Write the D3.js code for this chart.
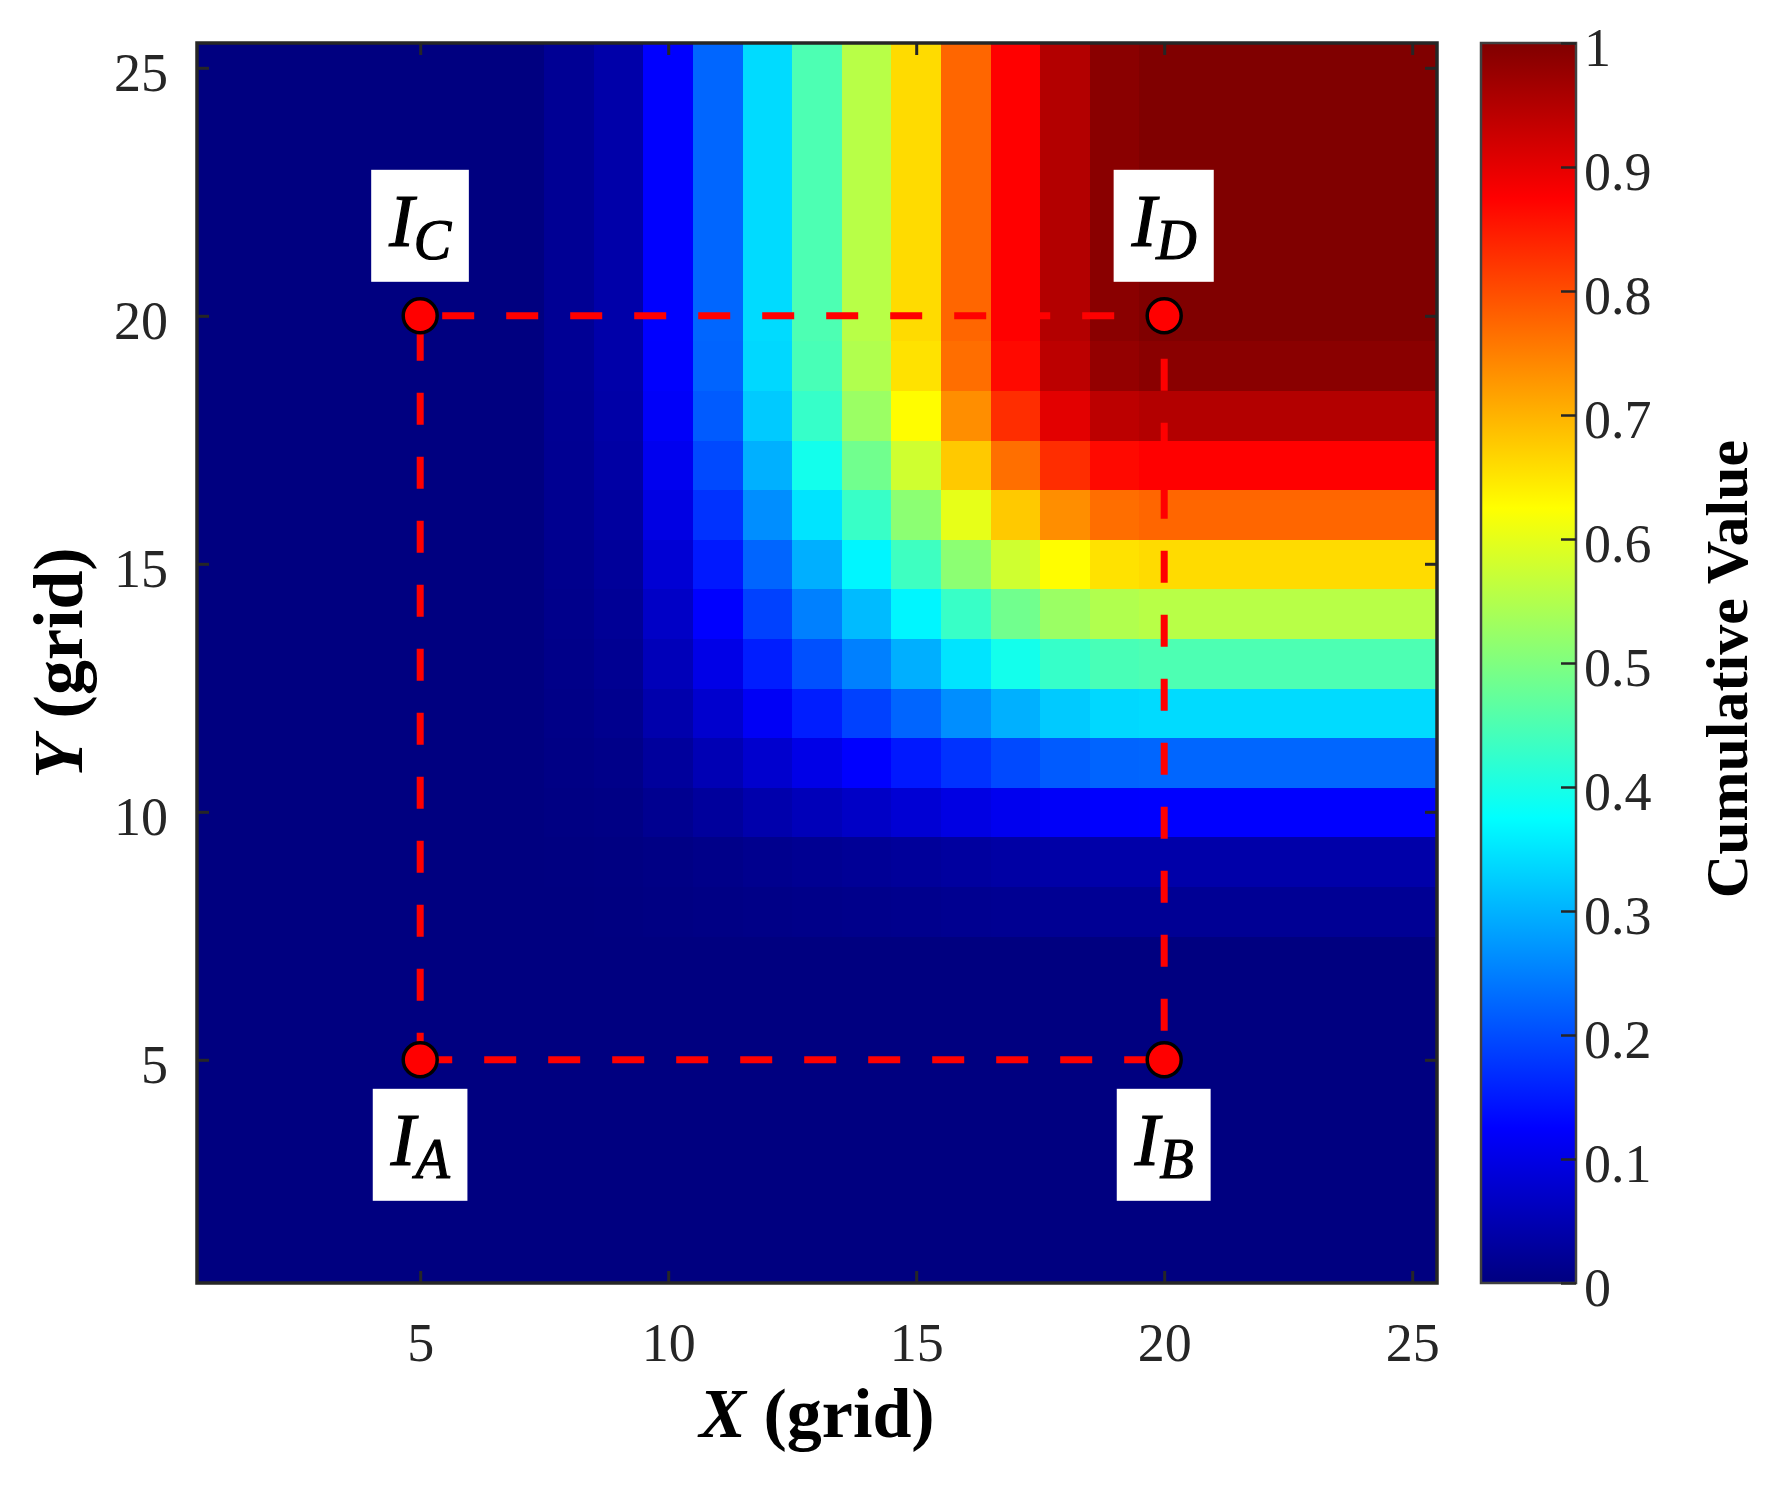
<!DOCTYPE html>
<html>
<head>
<meta charset="utf-8">
<script src="https://cdn.jsdelivr.net/npm/d3@7/dist/d3.min.js"></script>
<style>
  body { margin: 0; background: #fff; }
  svg { display: block; }
  text { font-family: "Liberation Serif", "Times New Roman", serif; }
</style>
</head>
<body>
<svg id="chart" width="1775" height="1488"></svg>
<script>
// grid cells (1..25 on each axis)
const gridX = [1, 2, 3, 4, 5, 6, 7, 8, 9, 10, 11, 12, 13, 14, 15, 16, 17, 18, 19, 20, 21, 22, 23, 24, 25];
const gridY = [1, 2, 3, 4, 5, 6, 7, 8, 9, 10, 11, 12, 13, 14, 15, 16, 17, 18, 19, 20, 21, 22, 23, 24, 25];

// cumulative value, one row per Y (Y = 1 first)
const values = [
  [0,0,0,0,0,0,0, 0,0,0,0,0,0,0,0,0,0,0,0, 0,0,0,0,0,0],
  [0,0,0,0,0,0,0, 0,0,0,0,0,0,0,0,0,0,0,0, 0,0,0,0,0,0],
  [0,0,0,0,0,0,0, 0,0,0,0,0,0,0,0,0,0,0,0, 0,0,0,0,0,0],
  [0,0,0,0,0,0,0, 0,0,0,0,0,0,0,0,0,0,0,0, 0,0,0,0,0,0],
  [0,0,0,0,0,0,0, 0,0,0,0,0,0,0,0,0,0,0,0, 0,0,0,0,0,0],
  [0,0,0,0,0,0,0, 0,0,0,0,0,0,0,0,0,0,0,0, 0,0,0,0,0,0],
  [0,0,0,0,0,0,0, 0,0,0,0,0,0,0,0,0,0,0,0, 0,0,0,0,0,0],
  [0,0,0,0,0,0,0, 0.000,0.001,0.003,0.005,0.007,0.009,0.011,0.013,0.016,0.018,0.019,0.020, 0.020,0.020,0.020,0.020,0.020,0.020],
  [0,0,0,0,0,0,0, 0.001,0.002,0.005,0.009,0.014,0.018,0.022,0.026,0.031,0.035,0.038,0.040, 0.040,0.040,0.040,0.040,0.040,0.040],
  [0,0,0,0,0,0,0, 0.003,0.005,0.016,0.028,0.043,0.056,0.069,0.083,0.097,0.109,0.119,0.124, 0.125,0.125,0.125,0.125,0.125,0.125],
  [0,0,0,0,0,0,0, 0.005,0.009,0.028,0.051,0.077,0.101,0.125,0.149,0.174,0.197,0.214,0.223, 0.225,0.225,0.225,0.225,0.225,0.225],
  [0,0,0,0,0,0,0, 0.007,0.014,0.043,0.077,0.116,0.153,0.189,0.224,0.264,0.298,0.323,0.337, 0.340,0.340,0.340,0.340,0.340,0.340],
  [0,0,0,0,0,0,0, 0.009,0.018,0.056,0.101,0.153,0.203,0.250,0.297,0.349,0.394,0.428,0.446, 0.450,0.450,0.450,0.450,0.450,0.450],
  [0,0,0,0,0,0,0, 0.011,0.022,0.069,0.125,0.189,0.250,0.308,0.366,0.430,0.486,0.527,0.549, 0.555,0.555,0.555,0.555,0.555,0.555],
  [0,0,0,0,0,0,0, 0.013,0.026,0.083,0.149,0.224,0.297,0.366,0.436,0.512,0.578,0.627,0.653, 0.660,0.660,0.660,0.660,0.660,0.660],
  [0,0,0,0,0,0,0, 0.016,0.031,0.097,0.174,0.264,0.349,0.430,0.512,0.601,0.678,0.736,0.767, 0.775,0.775,0.775,0.775,0.775,0.775],
  [0,0,0,0,0,0,0, 0.018,0.035,0.109,0.197,0.298,0.394,0.486,0.578,0.678,0.766,0.831,0.866, 0.875,0.875,0.875,0.875,0.875,0.875],
  [0,0,0,0,0,0,0, 0.019,0.038,0.119,0.214,0.323,0.428,0.527,0.627,0.736,0.831,0.903,0.941, 0.950,0.950,0.950,0.950,0.950,0.950],
  [0,0,0,0,0,0,0, 0.020,0.040,0.124,0.223,0.337,0.446,0.549,0.653,0.767,0.866,0.941,0.980, 0.990,0.990,0.990,0.990,0.990,0.990],
  [0,0,0,0,0,0,0, 0.020,0.040,0.125,0.225,0.340,0.450,0.555,0.660,0.775,0.875,0.950,0.990, 1,1,1,1,1,1],
  [0,0,0,0,0,0,0, 0.020,0.040,0.125,0.225,0.340,0.450,0.555,0.660,0.775,0.875,0.950,0.990, 1,1,1,1,1,1],
  [0,0,0,0,0,0,0, 0.020,0.040,0.125,0.225,0.340,0.450,0.555,0.660,0.775,0.875,0.950,0.990, 1,1,1,1,1,1],
  [0,0,0,0,0,0,0, 0.020,0.040,0.125,0.225,0.340,0.450,0.555,0.660,0.775,0.875,0.950,0.990, 1,1,1,1,1,1],
  [0,0,0,0,0,0,0, 0.020,0.040,0.125,0.225,0.340,0.450,0.555,0.660,0.775,0.875,0.950,0.990, 1,1,1,1,1,1],
  [0,0,0,0,0,0,0, 0.020,0.040,0.125,0.225,0.340,0.450,0.555,0.660,0.775,0.875,0.950,0.990, 1,1,1,1,1,1]
];

const xTicks = [5, 10, 15, 20, 25];
const yTicks = [5, 10, 15, 20, 25];
const cbTicks = [0, 0.1, 0.2, 0.3, 0.4, 0.5, 0.6, 0.7, 0.8, 0.9, 1];

// the four marked points and the dashed box between them
const corners = [
  { id: "A", x: 5,  y: 5,  side: "below" },
  { id: "B", x: 20, y: 5,  side: "below" },
  { id: "C", x: 5,  y: 20, side: "above" },
  { id: "D", x: 20, y: 20, side: "above" }
];
const edges = [["A", "B"], ["C", "D"], ["C", "A"], ["D", "B"]];

// jet colour map stops
const jetStops = [0, 0.125, 0.375, 0.625, 0.875, 1];
const jetColors = ["#000080", "#0000ff", "#00ffff", "#ffff00", "#ff0000", "#800000"];

const svg = d3.select("#chart");
const plotLeft = 197, plotRight = 1437, plotTop = 43, plotBottom = 1283;
const cbLeft = 1481, cbRight = 1576;
const axisColor = "#262626";

const x = d3.scaleLinear().domain([0.5, 25.5]).range([plotLeft, plotRight]);
const y = d3.scaleLinear().domain([0.5, 25.5]).range([plotBottom, plotTop]);
const color = d3.scaleLinear().domain(jetStops).range(jetColors).interpolate(d3.interpolateRgb).clamp(true);
const cb = d3.scaleLinear().domain([0, 1]).range([plotBottom, plotTop]);

// heatmap cells
const cells = [];
gridY.forEach((gy, j) => {
  gridX.forEach((gx, i) => {
    cells.push({ x: gx, y: gy, v: values[j][i] });
  });
});

svg.append("g")
  .attr("shape-rendering", "crispEdges")
  .selectAll("rect")
  .data(cells)
  .enter().append("rect")
  .attr("x", d => x(d.x - 0.5))
  .attr("y", d => y(d.y + 0.5))
  .attr("width", d => x(d.x + 0.5) - x(d.x - 0.5) + 0.8)
  .attr("height", d => y(d.y - 0.5) - y(d.y + 0.5) + 0.8)
  .attr("fill", d => color(d.v));

// axes with inside ticks
const tickLen = 12;
const fontTick = 54;

const xAxis = svg.append("g")
  .attr("transform", `translate(0,${plotBottom})`)
  .call(d3.axisBottom(x).tickValues(xTicks).tickSize(-tickLen).tickPadding(40));
const xAxisTop = svg.append("g")
  .attr("transform", `translate(0,${plotTop})`)
  .call(d3.axisTop(x).tickValues(xTicks).tickSize(-tickLen).tickFormat(""));
const yAxis = svg.append("g")
  .attr("transform", `translate(${plotLeft},0)`)
  .call(d3.axisLeft(y).tickValues(yTicks).tickSize(-tickLen).tickPadding(29));
const yAxisRight = svg.append("g")
  .attr("transform", `translate(${plotRight},0)`)
  .call(d3.axisRight(y).tickValues(yTicks).tickSize(-tickLen).tickFormat(""));

[xAxis, xAxisTop, yAxis, yAxisRight].forEach(g => {
  g.select(".domain").remove();
  g.selectAll(".tick line").attr("stroke", axisColor).attr("stroke-width", 3);
  g.selectAll(".tick text")
    .attr("fill", axisColor)
    .style("font-size", fontTick + "px")
    .style("font-family", "'Liberation Serif', serif");
});
yAxis.selectAll(".tick text").attr("dy", "0.42em");

svg.append("rect")
  .attr("x", plotLeft).attr("y", plotTop)
  .attr("width", plotRight - plotLeft).attr("height", plotBottom - plotTop)
  .attr("fill", "none")
  .attr("stroke", axisColor)
  .attr("stroke-width", 3.5);

// dashed box between the points
const byId = {};
corners.forEach(c => { byId[c.id] = c; });
const dashPhase = { "A-B": 0, "C-D": -22, "C-A": -13, "D-B": -43 };

svg.append("g")
  .selectAll("line")
  .data(edges)
  .enter().append("line")
  .attr("x1", d => x(byId[d[0]].x))
  .attr("y1", d => y(byId[d[0]].y))
  .attr("x2", d => x(byId[d[1]].x))
  .attr("y2", d => y(byId[d[1]].y))
  .attr("stroke", "#ff0000")
  .attr("stroke-width", 7)
  .attr("stroke-dasharray", "32,32")
  .attr("stroke-dashoffset", d => dashPhase[d[0] + "-" + d[1]]);

svg.append("g")
  .selectAll("circle")
  .data(corners)
  .enter().append("circle")
  .attr("cx", d => x(d.x))
  .attr("cy", d => y(d.y))
  .attr("r", 17)
  .attr("fill", "#ff0000")
  .attr("stroke", "#000")
  .attr("stroke-width", 3.5);

// point labels in white boxes
const boxH = 112;
const label = svg.append("g")
  .selectAll("g")
  .data(corners)
  .enter().append("g");

label.each(function(d) {
  const g = d3.select(this);
  const px = x(d.x), py = y(d.y);
  const boxTop = d.side === "below" ? py + 29 : py - 34 - boxH;
  const rect = g.append("rect").attr("fill", "#fff");
  const t = g.append("text")
    .attr("x", px)
    .attr("y", boxTop + 76)
    .attr("text-anchor", "middle")
    .style("font-style", "italic")
    .attr("fill", "#000")
    .attr("stroke", "#000")
    .attr("stroke-width", 1.2);
  t.append("tspan").style("font-size", "74px").text("I");
  t.append("tspan").style("font-size", "56px").attr("dy", 13).text(d.id);
  const bb = t.node().getBBox();
  const w = bb.width + 34;
  rect.attr("x", bb.x + bb.width / 2 - w / 2)
    .attr("y", boxTop)
    .attr("width", w)
    .attr("height", boxH);
});

// colour bar
const grad = svg.append("defs").append("linearGradient")
  .attr("id", "jet")
  .attr("x1", 0).attr("y1", 1).attr("x2", 0).attr("y2", 0);
grad.selectAll("stop")
  .data(jetStops)
  .enter().append("stop")
  .attr("offset", d => d)
  .attr("stop-color", d => color(d));

svg.append("rect")
  .attr("x", cbLeft).attr("y", plotTop)
  .attr("width", cbRight - cbLeft).attr("height", plotBottom - plotTop)
  .attr("fill", "url(#jet)")
  .attr("stroke", "#404040")
  .attr("stroke-width", 2.5);

const cbAxis = svg.append("g")
  .attr("transform", `translate(${cbRight},0)`)
  .call(d3.axisRight(cb).tickValues(cbTicks).tickSize(-15).tickPadding(8).tickFormat(d3.format("")));
cbAxis.select(".domain").remove();
cbAxis.selectAll(".tick line").attr("stroke", axisColor).attr("stroke-width", 2.5);
cbAxis.selectAll(".tick text")
  .attr("fill", axisColor)
  .attr("dy", "0.42em")
  .style("font-size", fontTick + "px")
  .style("font-family", "'Liberation Serif', serif");

// axis titles
const xTitle = svg.append("text")
  .attr("x", (plotLeft + plotRight) / 2)
  .attr("y", 1437)
  .attr("text-anchor", "middle")
  .style("font-size", "70px")
  .style("font-weight", "bold");
xTitle.append("tspan").style("font-style", "italic").text("X");
xTitle.append("tspan").text(" (grid)");

const yTitle = svg.append("text")
  .attr("transform", `translate(82,${(plotTop + plotBottom) / 2}) rotate(-90)`)
  .attr("text-anchor", "middle")
  .style("font-size", "70px")
  .style("font-weight", "bold");
yTitle.append("tspan").style("font-style", "italic").text("Y");
yTitle.append("tspan").text(" (grid)");

svg.append("text")
  .attr("transform", `translate(1747,${(plotTop + plotBottom) / 2 + 6}) rotate(-90)`)
  .attr("text-anchor", "middle")
  .style("font-size", "60px")
  .style("font-weight", "bold")
  .text("Cumulative Value");
</script>
</body>
</html>
